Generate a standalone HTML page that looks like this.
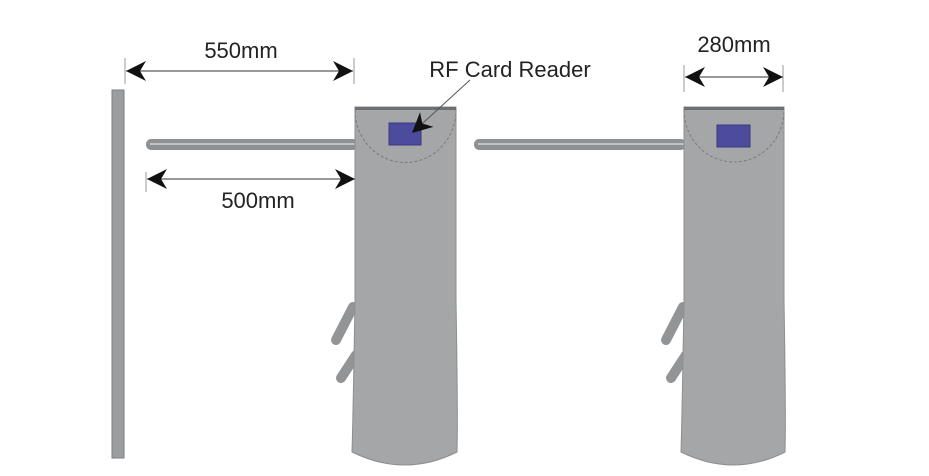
<!DOCTYPE html>
<html><head><style>html,body{margin:0;padding:0;background:#fff;width:929px;height:476px;overflow:hidden}</style></head>
<body>
<svg width="929" height="476" viewBox="0 0 929 476" xmlns="http://www.w3.org/2000/svg">
<defs>
<marker id="a" viewBox="0 0 10 10" refX="10" refY="5" markerWidth="20" markerHeight="20" markerUnits="userSpaceOnUse" orient="auto-start-reverse"><path d="M0,0 L10,5 L0,10 L3,5 Z" fill="#111"/></marker>
</defs>
<rect x="112" y="90" width="12" height="368" fill="#9c9d9f" stroke="#7d7e80" stroke-width="1"/>
<g>
<rect x="146" y="139" width="212" height="11" rx="5" fill="#8f9092"/>
<rect x="150" y="143" width="206" height="2" fill="#c2c3c5"/>
<rect x="474" y="139" width="212" height="11" rx="5" fill="#8f9092"/>
<rect x="478" y="143" width="206" height="2" fill="#c2c3c5"/>
</g>
<g stroke="#939496" stroke-width="10" stroke-linecap="round">
<line x1="353" y1="307" x2="336" y2="340"/>
<line x1="356" y1="355" x2="341" y2="378"/>
<line x1="683" y1="307" x2="666" y2="340"/>
<line x1="686" y1="355" x2="671" y2="378"/>
</g>
<path d="M355,107 L456,107 L456,300 Q458,420 457,452 Q405,478 352,452 Q353,420 355,300 Z" fill="#a5a6a8" stroke="#8d8e90" stroke-width="1"/>
<rect x="355" y="107" width="101" height="3" fill="#6e6f71"/>
<path d="M355,110 A50,52 0 0 0 456,110" fill="none" stroke="#7a7b7d" stroke-width="1" stroke-dasharray="3,2"/>
<rect x="389" y="123" width="32" height="22" fill="#4c4b9c" stroke="#3a3980"/>
<path d="M684,107 L784,107 L784,300 Q786,420 785,452 Q734,478 681,452 Q682,420 684,300 Z" fill="#a5a6a8" stroke="#8d8e90" stroke-width="1"/>
<rect x="684" y="107" width="100" height="3" fill="#6e6f71"/>
<path d="M684,110 A50,52 0 0 0 784,110" fill="none" stroke="#7a7b7d" stroke-width="1" stroke-dasharray="3,2"/>
<rect x="717" y="125" width="33" height="22" fill="#4c4b9c" stroke="#3a3980"/>
<g stroke="#999" stroke-width="1">
<line x1="125" y1="58" x2="125" y2="84"/><line x1="354" y1="58" x2="354" y2="84"/>
<line x1="146" y1="172" x2="146" y2="192"/>
<line x1="684" y1="65" x2="684" y2="92"/><line x1="783" y1="65" x2="783" y2="92"/>
</g>
<g stroke="#333" stroke-width="1" fill="none" marker-start="url(#a)" marker-end="url(#a)">
<line x1="126" y1="71" x2="353" y2="71"/>
<line x1="147" y1="179" x2="355" y2="179"/>
<line x1="685" y1="77" x2="783" y2="77"/>
</g>
<line x1="470" y1="80" x2="412" y2="133" stroke="#555" stroke-width="1" marker-end="url(#a)"/>
<g font-family="Liberation Sans, sans-serif" font-size="22" fill="#222" text-anchor="middle">
<text x="241" y="58">550mm</text>
<text x="258" y="208">500mm</text>
<text x="734" y="52">280mm</text>
<text x="510" y="77">RF Card Reader</text>
</g>
</svg>
</body></html>
